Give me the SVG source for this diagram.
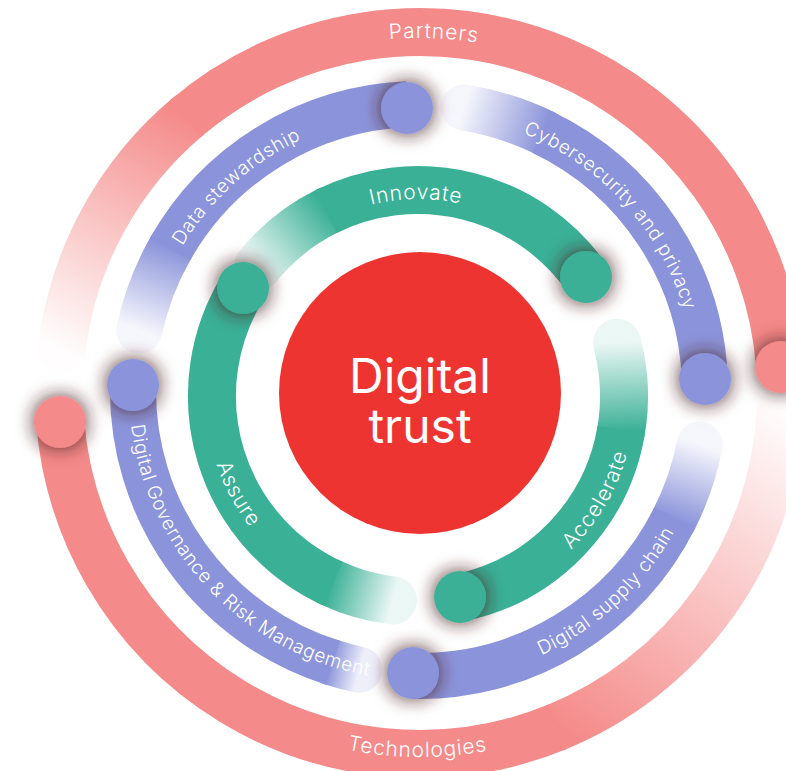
<svg xmlns="http://www.w3.org/2000/svg" xmlns:xlink="http://www.w3.org/1999/xlink" width="786" height="771" viewBox="0 0 786 771">
<style>
.band{fill:none;stroke-linecap:butt}
.fade{fill:none;stroke-linecap:round}
.red{stroke:#F48A89}
.pur{stroke:#8B94DA}
.grn{stroke:#3AB096}
.rw{stroke-width:48}
.pw{stroke-width:46}
.gw{stroke-width:48}
.dot{filter:url(#sh)}
.lbl{font-family:Inter,"Noto Sans","Liberation Sans",sans-serif;font-weight:300;fill:#fff;font-size:19px;letter-spacing:0.6px}
.lg{font-size:21px;letter-spacing:0.9px}
.big{font-family:Inter,"Noto Sans","Liberation Sans",sans-serif;font-weight:400;fill:#fff;font-size:48px;text-anchor:middle}
</style>
<defs>
<filter id="sh" x="-90%" y="-90%" width="280%" height="280%">
<feMorphology in="SourceAlpha" operator="dilate" radius="3" result="d"/>
<feGaussianBlur in="d" stdDeviation="7.5" result="b"/>
<feFlood flood-color="#4a1e22" flood-opacity="0.6"/>
<feComposite operator="in" in2="b" result="s"/>
<feMerge><feMergeNode in="s"/><feMergeNode in="SourceGraphic"/></feMerge>
</filter>
<linearGradient id="gInn" gradientUnits="userSpaceOnUse" x1="-160.1" y1="-129.6" x2="-90.3" y2="-185.2"><stop offset="0" stop-color="#3AB096" stop-opacity="0.12"/><stop offset="1" stop-color="#3AB096"/></linearGradient>
<linearGradient id="gAcc" gradientUnits="userSpaceOnUse" x1="199.0" y1="-53.3" x2="202.9" y2="35.8"><stop offset="0" stop-color="#3AB096" stop-opacity="0.1"/><stop offset="1" stop-color="#3AB096"/></linearGradient>
<linearGradient id="gAss" gradientUnits="userSpaceOnUse" x1="-25.1" y1="204.5" x2="-87.1" y2="186.7"><stop offset="0" stop-color="#3AB096" stop-opacity="0.1"/><stop offset="1" stop-color="#3AB096"/></linearGradient>
<linearGradient id="pData" gradientUnits="userSpaceOnUse" x1="-279.7" y1="-59.5" x2="-247.7" y2="-143.0"><stop offset="0" stop-color="#8B94DA" stop-opacity="0.08"/><stop offset="1" stop-color="#8B94DA"/></linearGradient>
<linearGradient id="pCyb" gradientUnits="userSpaceOnUse" x1="44.7" y1="-282.5" x2="125.4" y2="-257.1"><stop offset="0" stop-color="#8B94DA" stop-opacity="0.08"/><stop offset="1" stop-color="#8B94DA"/></linearGradient>
<linearGradient id="pSup" gradientUnits="userSpaceOnUse" x1="280.7" y1="54.6" x2="254.8" y2="129.8"><stop offset="0" stop-color="#8B94DA" stop-opacity="0.08"/><stop offset="1" stop-color="#8B94DA"/></linearGradient>
<linearGradient id="pGov" gradientUnits="userSpaceOnUse" x1="-59.5" y1="279.7" x2="-88.4" y2="272.0"><stop offset="0" stop-color="#8B94DA" stop-opacity="0.15"/><stop offset="1" stop-color="#8B94DA"/></linearGradient>
<linearGradient id="rPar" gradientUnits="userSpaceOnUse" x1="-358.3" y1="-44.0" x2="-232.0" y2="-276.5"><stop offset="0" stop-color="#F48A89" stop-opacity="0.02"/><stop offset="1" stop-color="#F48A89"/></linearGradient>
<linearGradient id="rTec" gradientUnits="userSpaceOnUse" x1="360.5" y1="18.9" x2="135.2" y2="334.7"><stop offset="0" stop-color="#F48A89" stop-opacity="0.02"/><stop offset="1" stop-color="#F48A89"/></linearGradient>
<path id="tpPar" d="M-165.6,-314.0 A355,355 0 0 1 189.2,-300.4"/>
<path id="tpTec" d="M-184.2,314.0 A364,364 0 0 0 179.8,316.5"/>
<path id="tpData" d="M-276.8,9.2 A277,277 0 0 1 39.0,-274.2"/>
<path id="tpCyb" d="M-11.1,-276.8 A277,277 0 0 1 274.5,37.1"/>
<path id="tpSup" d="M-36.1,289.8 A292,292 0 0 0 291.6,-14.8"/>
<path id="tpGov" d="M-284.2,-57.8 A290,290 0 0 0 42.9,286.8"/>
<path id="tpInn" d="M-152.2,-125.0 A197,197 0 0 1 149.6,-128.2"/>
<path id="tpAcc" d="M36.9,213.8 A217,217 0 0 0 204.2,-73.5"/>
<path id="tpAss" d="M-204.2,-60.5 A213,213 0 0 0 -60.5,204.2"/>
</defs>
<rect width="786" height="771" fill="#fff"/>

<g id="ring-red" transform="translate(420,393)">
<g id="partners">
<path class="fade rw" stroke="url(#rPar)" d="M-358.3,-44.0 A361,361 0 0 1 -232.0,-276.5"/>
<path class="band red rw" d="M-234.4,-274.5 A361,361 0 0 1 360.1,-25.8"/>
<text class="lbl lg"><textPath href="#tpPar" startOffset="50%" text-anchor="middle">Partners</textPath></text>
<circle class="dot" cx="361" cy="-26" r="26" fill="#F48A89"/>
</g>
<g id="technologies">
<path class="fade rw" stroke="url(#rTec)" d="M360.5,18.9 A361,361 0 0 1 135.2,334.7"/>
<path class="band red rw" d="M138.2,333.5 A361,361 0 0 1 -359.8,29.0"/>
<text class="lbl lg"><textPath href="#tpTec" startOffset="50%" text-anchor="middle">Technologies</textPath></text>
<circle class="dot" cx="-360" cy="29" r="26" fill="#F48A89"/>
</g>
</g>

<g id="ring-purple" transform="translate(419,390)">
<g id="data-stewardship">
<path class="fade pw" stroke="url(#pData)" d="M-279.7,-59.5 A286,286 0 0 1 -247.7,-143.0"/>
<path class="band pur pw" d="M-248.9,-140.8 A286,286 0 0 1 -12.0,-285.7"/>
<text class="lbl"><textPath href="#tpData" startOffset="50%" text-anchor="middle">Data stewardship</textPath></text>
<circle class="dot" cx="-12" cy="-282" r="26" fill="#8B94DA"/>
</g>
<g id="cybersecurity">
<path class="fade pw" stroke="url(#pCyb)" d="M44.7,-282.5 A286,286 0 0 1 125.4,-257.1"/>
<path class="band pur pw" d="M123.1,-258.1 A286,286 0 0 1 285.8,-11.0"/>
<text class="lbl"><textPath href="#tpCyb" startOffset="50%" text-anchor="middle">Cybersecurity and privacy</textPath></text>
<circle class="dot" cx="286" cy="-11" r="26" fill="#8B94DA"/>
</g>
<g id="supply-chain">
<path class="fade pw" stroke="url(#pSup)" d="M280.7,54.6 A286,286 0 0 1 254.8,129.8"/>
<path class="band pur pw" d="M255.9,127.6 A286,286 0 0 1 -6.0,285.9"/>
<text class="lbl"><textPath href="#tpSup" startOffset="50%" text-anchor="middle">Digital supply chain</textPath></text>
<circle class="dot" cx="-6" cy="283" r="26" fill="#8B94DA"/>
</g>
<g id="governance">
<path class="fade pw" stroke="url(#pGov)" d="M-59.5,279.7 A286,286 0 0 1 -88.4,272.0"/>
<path class="band pur pw" d="M-86.0,272.8 A286,286 0 0 1 -286.0,-5.0"/>
<text class="lbl"><textPath href="#tpGov" startOffset="50%" text-anchor="middle">Digital Governance &amp; Risk Management</textPath></text>
<circle class="dot" cx="-286" cy="-5" r="26" fill="#8B94DA"/>
</g>
</g>

<g id="ring-green" transform="translate(418,396)">
<g id="innovate">
<path class="fade gw" stroke="url(#gInn)" d="M-160.1,-129.6 A206,206 0 0 1 -90.3,-185.2"/>
<path class="band grn gw" d="M-91.9,-184.4 A206,206 0 0 1 168.1,-119.0"/>
<text class="lbl lg"><textPath href="#tpInn" startOffset="50%" text-anchor="middle">Innovate</textPath></text>
<circle class="dot" cx="168" cy="-119" r="26" fill="#3AB096"/>
</g>
<g id="accelerate">
<path class="fade gw" stroke="url(#gAcc)" d="M199.0,-53.3 A206,206 0 0 1 202.9,35.8"/>
<path class="band grn gw" d="M203.2,34.0 A206,206 0 0 1 42.1,201.7"/>
<text class="lbl lg"><textPath href="#tpAcc" startOffset="50%" text-anchor="middle">Accelerate</textPath></text>
<circle class="dot" cx="42" cy="201" r="26" fill="#3AB096"/>
</g>
<g id="assure">
<path class="fade gw" stroke="url(#gAss)" d="M-25.1,204.5 A206,206 0 0 1 -87.1,186.7"/>
<path class="band grn gw" d="M-85.4,187.5 A206,206 0 0 1 -175.3,-108.3"/>
<text class="lbl lg"><textPath href="#tpAss" startOffset="50%" text-anchor="middle">Assure</textPath></text>
<circle class="dot" cx="-175" cy="-108" r="26" fill="#3AB096"/>
</g>
</g>

<g id="digital-trust">
<circle cx="420" cy="393" r="141" fill="#EE3431"/>
<text class="big" x="420" y="393">Digital</text>
<text class="big" x="420" y="443">trust</text>
</g>
</svg>
